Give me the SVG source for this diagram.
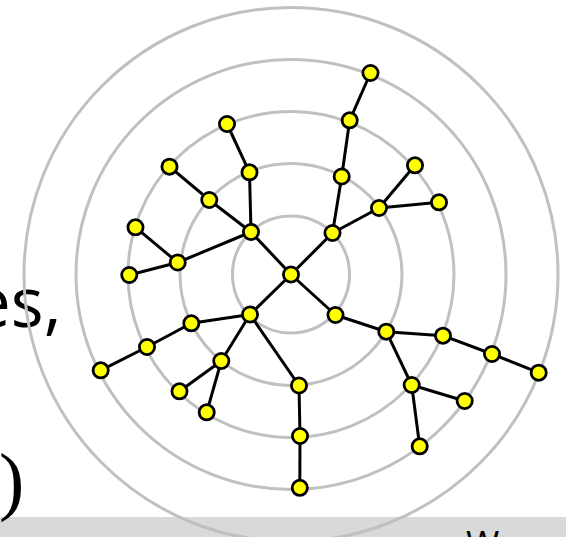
<svg xmlns="http://www.w3.org/2000/svg" width="566" height="537" viewBox="0 0 566 537">
<style>
.ring{fill:none;stroke:#c0c0c0;stroke-width:3}
.edge{stroke:#000;stroke-width:3;fill:none}
.node circle{fill:#ffff00;stroke:#000;stroke-width:2.8}
.big{font-family:"Open Sans","DejaVu Sans",sans-serif;font-size:69px;fill:#000}
</style>
<rect x="0" y="0" width="566" height="537" fill="#fff"/>
<rect x="0" y="517" width="566" height="20" fill="#d9d9d9"/>
<text x="466" y="557" font-family="Open Sans, sans-serif" font-size="36" fill="#000">W</text>
<text class="big" x="-28" y="327">es,</text>
<text x="-1" y="506" font-family="Liberation Serif, serif" font-size="76" fill="#000">)</text>
<g id="rings">
<circle class="ring" cx="291" cy="274.5" r="58.5"/>
<circle class="ring" cx="291" cy="274.5" r="111"/>
<circle class="ring" cx="291" cy="274.5" r="163"/>
<circle class="ring" cx="291" cy="274.5" r="215"/>
<circle class="ring" cx="291" cy="274.5" r="267"/>
</g>
<g id="connectors">
<line class="edge" x1="291" y1="274.5" x2="251" y2="232"/>
<line class="edge" x1="291" y1="274.5" x2="332.5" y2="233"/>
<line class="edge" x1="291" y1="274.5" x2="250" y2="314.5"/>
<line class="edge" x1="291" y1="274.5" x2="335.5" y2="315"/>
<line class="edge" x1="251" y1="232" x2="249.5" y2="172.3"/>
<line class="edge" x1="249.5" y1="172.3" x2="227" y2="124"/>
<line class="edge" x1="251" y1="232" x2="209.3" y2="200"/>
<line class="edge" x1="209.3" y1="200" x2="169.5" y2="166.7"/>
<line class="edge" x1="251" y1="232" x2="177.7" y2="262.5"/>
<line class="edge" x1="177.7" y1="262.5" x2="135.5" y2="227.3"/>
<line class="edge" x1="177.7" y1="262.5" x2="129.3" y2="275"/>
<line class="edge" x1="332.5" y1="233" x2="341.7" y2="176.5"/>
<line class="edge" x1="341.7" y1="176.5" x2="349.7" y2="120.3"/>
<line class="edge" x1="349.7" y1="120.3" x2="370.5" y2="73"/>
<line class="edge" x1="332.5" y1="233" x2="379" y2="208"/>
<line class="edge" x1="379" y1="208" x2="415" y2="165.3"/>
<line class="edge" x1="379" y1="208" x2="439" y2="202.3"/>
<line class="edge" x1="250" y1="314.5" x2="191.3" y2="323.3"/>
<line class="edge" x1="191.3" y1="323.3" x2="147" y2="347"/>
<line class="edge" x1="147" y1="347" x2="100.7" y2="370.3"/>
<line class="edge" x1="250" y1="314.5" x2="221.3" y2="361"/>
<line class="edge" x1="221.3" y1="361" x2="179.5" y2="391.3"/>
<line class="edge" x1="221.3" y1="361" x2="206.7" y2="412.3"/>
<line class="edge" x1="250" y1="314.5" x2="299" y2="385.5"/>
<line class="edge" x1="299" y1="385.5" x2="300" y2="436"/>
<line class="edge" x1="300" y1="436" x2="299.8" y2="487.8"/>
<line class="edge" x1="335.5" y1="315" x2="386.3" y2="331.7"/>
<line class="edge" x1="386.3" y1="331.7" x2="443" y2="335.7"/>
<line class="edge" x1="443" y1="335.7" x2="492" y2="354"/>
<line class="edge" x1="492" y1="354" x2="538.7" y2="372.7"/>
<line class="edge" x1="386.3" y1="331.7" x2="411.7" y2="385"/>
<line class="edge" x1="411.7" y1="385" x2="464.7" y2="401"/>
<line class="edge" x1="411.7" y1="385" x2="419.7" y2="446.3"/>
</g>
<g id="n1" class="node"><circle cx="291" cy="274.5" r="7.6"/></g>
<g id="n2" class="node"><circle cx="251" cy="232" r="7.6"/></g>
<g id="n3" class="node"><circle cx="332.5" cy="233" r="7.6"/></g>
<g id="n4" class="node"><circle cx="250" cy="314.5" r="7.6"/></g>
<g id="n5" class="node"><circle cx="335.5" cy="315" r="7.6"/></g>
<g id="n6" class="node"><circle cx="249.5" cy="172.3" r="7.6"/></g>
<g id="n7" class="node"><circle cx="227" cy="124" r="7.6"/></g>
<g id="n8" class="node"><circle cx="209.3" cy="200" r="7.6"/></g>
<g id="n9" class="node"><circle cx="169.5" cy="166.7" r="7.6"/></g>
<g id="n10" class="node"><circle cx="177.7" cy="262.5" r="7.6"/></g>
<g id="n11" class="node"><circle cx="135.5" cy="227.3" r="7.6"/></g>
<g id="n12" class="node"><circle cx="129.3" cy="275" r="7.6"/></g>
<g id="n13" class="node"><circle cx="341.7" cy="176.5" r="7.6"/></g>
<g id="n14" class="node"><circle cx="349.7" cy="120.3" r="7.6"/></g>
<g id="n15" class="node"><circle cx="370.5" cy="73" r="7.6"/></g>
<g id="n16" class="node"><circle cx="379" cy="208" r="7.6"/></g>
<g id="n17" class="node"><circle cx="415" cy="165.3" r="7.6"/></g>
<g id="n18" class="node"><circle cx="439" cy="202.3" r="7.6"/></g>
<g id="n19" class="node"><circle cx="191.3" cy="323.3" r="7.6"/></g>
<g id="n20" class="node"><circle cx="147" cy="347" r="7.6"/></g>
<g id="n21" class="node"><circle cx="100.7" cy="370.3" r="7.6"/></g>
<g id="n22" class="node"><circle cx="221.3" cy="361" r="7.6"/></g>
<g id="n23" class="node"><circle cx="179.5" cy="391.3" r="7.6"/></g>
<g id="n24" class="node"><circle cx="206.7" cy="412.3" r="7.6"/></g>
<g id="n25" class="node"><circle cx="299" cy="385.5" r="7.6"/></g>
<g id="n26" class="node"><circle cx="300" cy="436" r="7.6"/></g>
<g id="n27" class="node"><circle cx="299.8" cy="487.8" r="7.6"/></g>
<g id="n28" class="node"><circle cx="386.3" cy="331.7" r="7.6"/></g>
<g id="n29" class="node"><circle cx="443" cy="335.7" r="7.6"/></g>
<g id="n30" class="node"><circle cx="492" cy="354" r="7.6"/></g>
<g id="n31" class="node"><circle cx="538.7" cy="372.7" r="7.6"/></g>
<g id="n32" class="node"><circle cx="411.7" cy="385" r="7.6"/></g>
<g id="n33" class="node"><circle cx="464.7" cy="401" r="7.6"/></g>
<g id="n34" class="node"><circle cx="419.7" cy="446.3" r="7.6"/></g>
</svg>
